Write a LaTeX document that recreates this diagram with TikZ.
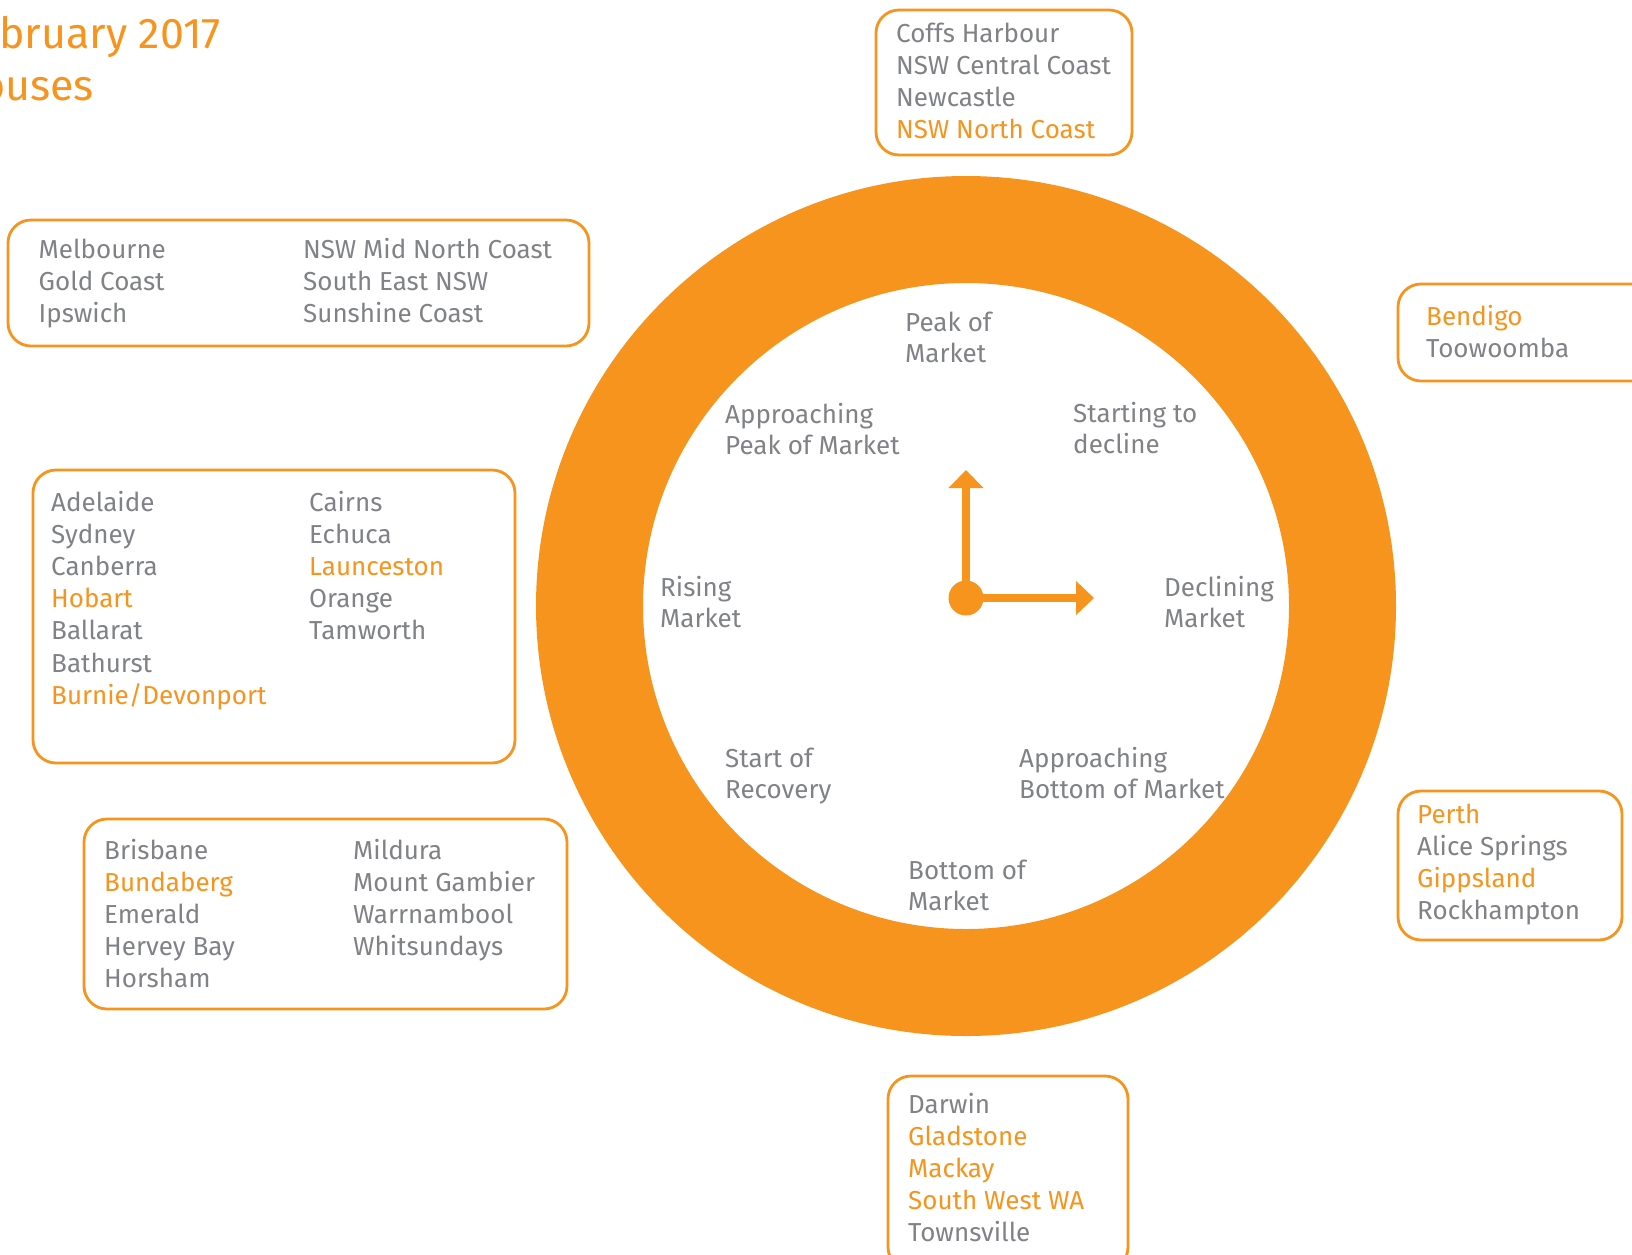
\documentclass[tikz,border=0pt]{standalone}
\usepackage{fontspec}
\setmainfont{Fira Sans}
\usetikzlibrary{arrows.meta}
\definecolor{corange}{RGB}{247,148,30}
\definecolor{cgray}{RGB}{128,130,133}
\newcommand{\gl}[1]{\hbox{\color{cgray}#1}}
\newcommand{\ol}[1]{\hbox{\color{corange}#1}}
\begin{document}
\begin{tikzpicture}[x=1pt,y=-1pt,
  citybox/.style={draw=corange, line width=2.8pt, rounded corners=23pt, anchor=north west, inner sep=0pt, outer sep=0pt},
  txt/.style={anchor=base west, inner sep=0pt, font=\fontsize{26}{32.2}\selectfont, text=cgray},
  ringtxt/.style={anchor=base west, inner sep=0pt, font=\fontsize{26}{31}\selectfont, text=cgray},
  title/.style={inner sep=0pt, font=\fontsize{43}{52}\selectfont, text=corange},
  hand/.style={draw=corange, line width=7.3pt},
]
\clip (0,0) rectangle (1632,1254);
\fill[white] (0,0) rectangle (1632,1254);

% title fragments
\node[title, anchor=base west] (t1) at (-1,48) {\llap{Fe}bruary 2017};
\node[title, anchor=base east] (t2) at (94,100) {Houses};

% ring
\coordinate (c) at (966,606);
\fill[corange, even odd rule] (c) circle[radius=430pt] (c) circle[radius=323pt];

% hands
\coordinate (o) at (966,598);
\coordinate (up) at (966,470);
\coordinate (rt) at (1094,598);
\draw[hand, -{Triangle[length=18pt,width=34pt]}] (o) -- (up);
\draw[hand, -{Triangle[length=18pt,width=33pt]}] (o) -- (rt);
\fill[corange] (o) circle[radius=17.5pt];

% ring labels
\node[ringtxt] (l1) at (905,331) {\vtop{\gl{Peak of}\gl{Market}}};
\node[ringtxt] (l2) at (725,423) {\vtop{\gl{Approaching}\gl{Peak of Market}}};
\node[ringtxt] (l3) at (1073,422) {\vtop{\gl{Starting to}\gl{decline}}};
\node[ringtxt] (l4) at (660,596) {\vtop{\gl{Rising}\gl{Market}}};
\node[ringtxt] (l5) at (1164,596) {\vtop{\gl{Declining}\gl{Market}}};
\node[ringtxt] (l6) at (725,767) {\vtop{\gl{Start of}\gl{Recovery}}};
\node[ringtxt] (l7) at (1019,767) {\vtop{\gl{Approaching}\gl{Bottom of Market}}};
\node[ringtxt] (l8) at (908,879) {\vtop{\gl{Bottom of}\gl{Market}}};

% boxes
\node[citybox, minimum width=256pt, minimum height=145pt] (b1) at (876,10) {};
\node[citybox, minimum width=581pt, minimum height=126pt] (b2) at (8,220) {};
\node[citybox, minimum width=482pt, minimum height=293pt] (b3) at (33,470) {};
\node[citybox, minimum width=483pt, minimum height=190pt] (b4) at (84,819) {};
\node[citybox, minimum width=262pt, minimum height=97pt] (b5) at (1398,284) {};
\node[citybox, minimum width=224pt, minimum height=149pt] (b6) at (1398,791) {};
\node[citybox, minimum width=240pt, minimum height=194pt] (b7) at (888,1076) {};

% box texts
\node[txt] (x1) at (896,42) {\vtop{\gl{Coffs Harbour}\gl{NSW Central Coast}\gl{Newcastle}\ol{NSW North Coast}}};
\node[txt] (x2a) at (38.5,258) {\vtop{\gl{Melbourne}\gl{Gold Coast}\gl{Ipswich}}};
\node[txt] (x2b) at (303,258) {\vtop{\gl{NSW Mid North Coast}\gl{South East NSW}\gl{Sunshine Coast}}};
\node[txt] (x3a) at (51,511) {\vtop{\gl{Adelaide}\gl{Sydney}\gl{Canberra}\ol{Hobart}\gl{Ballarat}\gl{Bathurst}\ol{Burnie/Devonport}}};
\node[txt] (x3b) at (309,511) {\vtop{\gl{Cairns}\gl{Echuca}\ol{Launceston}\gl{Orange}\gl{Tamworth}}};
\node[txt] (x4a) at (104,859) {\vtop{\gl{Brisbane}\ol{Bundaberg}\gl{Emerald}\gl{Hervey Bay}\gl{Horsham}}};
\node[txt] (x4b) at (353,859) {\vtop{\gl{Mildura}\gl{Mount Gambier}\gl{Warrnambool}\gl{Whitsundays}}};
\node[txt] (x5) at (1426,325) {\vtop{\ol{Bendigo}\gl{Toowoomba}}};
\node[txt] (x6) at (1417,823) {\vtop{\ol{Perth}\gl{Alice Springs}\ol{Gippsland}\gl{Rockhampton}}};
\node[txt] (x7) at (908,1113) {\vtop{\gl{Darwin}\ol{Gladstone}\ol{Mackay}\ol{South West WA}\gl{Townsville}}};
\end{tikzpicture}
\end{document}
